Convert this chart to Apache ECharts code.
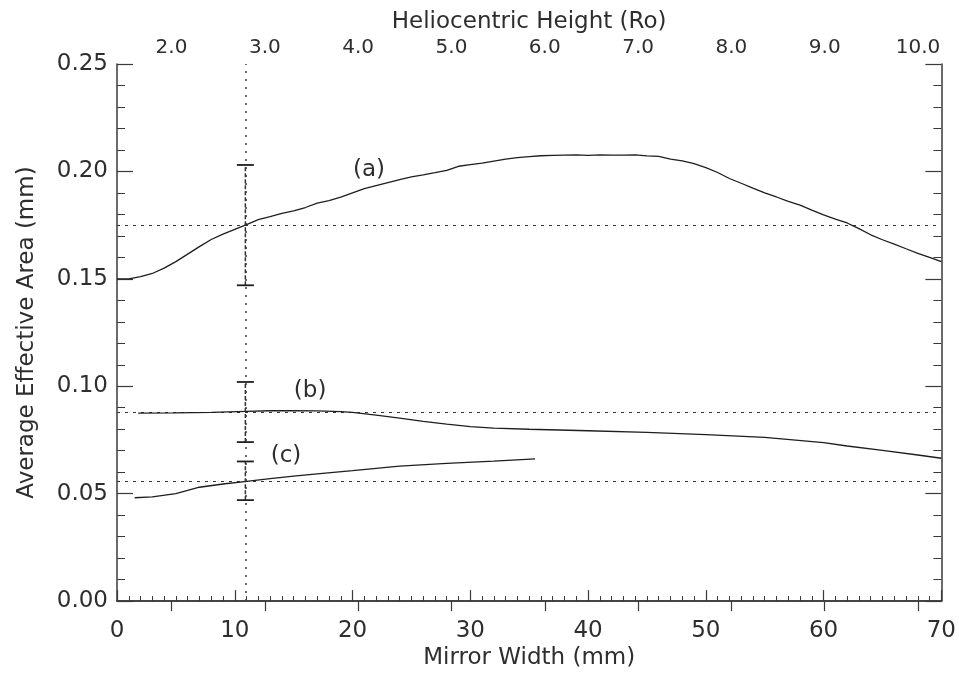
<!DOCTYPE html>
<html>
<head>
<meta charset="utf-8">
<title>Average Effective Area vs Mirror Width</title>
<script src="https://cdn.jsdelivr.net/npm/echarts@6/dist/echarts.min.js"></script>
<style>
  html, body { margin: 0; padding: 0; background: #fff; }
  #chart { width: 959px; height: 675px; }
</style>
</head>
<body>
<div id="chart"></div>
<script>
// Curve (a)
const widthA = [0,1,2,3,4,5,6,7,8,9,10,11,12,13,14,15,16,17,18,19,20,21,22,23,24,25,26,27,28,29,30,31,32,33,34,35,36,37,38,39,40,41,42,43,44,45,46,47,48,49,50,51,52,53,54,55,56,57,58,59,60,61,62,63,64,65,66,67,68,69,70];
const areaA = [0.1500,0.1500,0.1510,0.1525,0.1550,0.1580,0.1615,0.1650,0.1683,0.1708,0.1730,0.1752,0.1776,0.1790,0.1805,0.1816,0.1832,0.1852,0.1864,0.1880,0.1900,0.1920,0.1934,0.1948,0.1962,0.1975,0.1984,0.1994,0.2005,0.2024,0.2032,0.2039,0.2048,0.2057,0.2064,0.2069,0.2073,0.2075,0.2076,0.2077,0.2075,0.2077,0.2076,0.2076,0.2077,0.2072,0.2070,0.2057,0.2049,0.2036,0.2018,0.1995,0.1967,0.1945,0.1922,0.1900,0.1881,0.1861,0.1843,0.1820,0.1798,0.1778,0.1760,0.1734,0.1705,0.1682,0.1662,0.1640,0.1619,0.1600,0.1580];

// Curve (b)
const widthB = [1.8,5,8,11,13,15,17,19,20,22,24,26,28,30,32,35,40,45,50,55,60,62,65,68,70];
const areaB = [0.0875,0.0876,0.0878,0.0883,0.0886,0.0886,0.0885,0.0882,0.0878,0.0866,0.0852,0.0837,0.0824,0.0812,0.0805,0.0800,0.0793,0.0785,0.0775,0.0762,0.0738,0.0722,0.0702,0.0680,0.0665];

// Curve (c)
const widthC = [1.5,3,5,7,9,11,13,15,17,20,24,28,32,35.5];
const areaC = [0.0481,0.0485,0.0500,0.0530,0.0545,0.0557,0.0570,0.0582,0.0592,0.0607,0.0628,0.0641,0.0652,0.0662];

// Reference levels and error bars at the nominal mirror width
const refWidth = 10.9;
const refLevels = [0.175, 0.088, 0.056];
const errHalf = [0.028, 0.014, 0.009];

// Curve tags and where they sit
const curveNames = ['(a)', '(b)', '(c)'];
const tagWidth = [21.4, 16.4, 14.35];
const tagArea = [0.2008, 0.0980, 0.0675];

// Axis ticks
const widthTicks = [0, 10, 20, 30, 40, 50, 60, 70];
const areaTicks = [0.00, 0.05, 0.10, 0.15, 0.20, 0.25];
const heightTicks = [2, 3, 4, 5, 6, 7, 8, 9, 10];
const heightMin = 1.416, heightMax = 10.25;

const FONT = 'DejaVu Sans';
const INK = '#1e1e1e';
const AXIS = '#3a3a3a';
const TEXT = '#2e2e2e';

const zip = (xs, ys) => xs.map((x, i) => [x, ys[i]]);

const chart = echarts.init(document.getElementById('chart'), null, { renderer: 'canvas' });

const curveStyle = { color: INK, width: 1.3 };

chart.setOption({
  animation: false,
  backgroundColor: '#fff',
  grid: { left: 117, right: 15, top: 64, bottom: 72, containLabel: false },
  xAxis: [
    {
      type: 'value', position: 'bottom', min: 0, max: 70, interval: 10,
      name: 'Mirror Width (mm)', nameLocation: 'middle', nameGap: 44,
      nameTextStyle: { fontFamily: FONT, fontSize: 23, color: TEXT },
      axisLine: { show: true, lineStyle: { color: AXIS, width: 1.5 } },
      axisTick: { show: true, inside: true, length: 11, lineStyle: { color: AXIS, width: 1.2 } },
      minorTick: { show: true, splitNumber: 10, length: 5, lineStyle: { color: AXIS, width: 1 } },
      axisLabel: { margin: 18, fontFamily: FONT, fontSize: 23, color: TEXT, formatter: v => String(v) },
      splitLine: { show: false }
    },
    {
      type: 'value', position: 'top', min: heightMin, max: heightMax,
      name: 'Heliocentric Height (Ro)', nameLocation: 'middle', nameGap: 29,
      nameTextStyle: { fontFamily: FONT, fontSize: 23, color: TEXT },
      axisLine: { show: true, lineStyle: { color: AXIS, width: 1.5 } },
      axisTick: { show: true, inside: true, length: 10, customValues: heightTicks, lineStyle: { color: AXIS, width: 1.2 } },
      minorTick: { show: false },
      axisLabel: { margin: 6, fontFamily: FONT, fontSize: 20, color: TEXT, customValues: heightTicks, formatter: v => v.toFixed(1) },
      splitLine: { show: false }
    }
  ],
  yAxis: [
    {
      type: 'value', position: 'left', min: 0, max: 0.25, interval: 0.05,
      name: 'Average Effective Area (mm)', nameLocation: 'middle', nameGap: 78, nameRotate: 90,
      nameTextStyle: { fontFamily: FONT, fontSize: 23, color: TEXT },
      axisLine: { show: true, lineStyle: { color: AXIS, width: 1.5 } },
      axisTick: { show: true, inside: true, length: 16, lineStyle: { color: AXIS, width: 1.2 } },
      minorTick: { show: true, splitNumber: 5, length: 8, lineStyle: { color: AXIS, width: 1 } },
      axisLabel: { margin: 9, fontFamily: FONT, fontSize: 23, color: TEXT, formatter: v => v.toFixed(2) },
      splitLine: { show: false }
    },
    {
      type: 'value', position: 'right', min: 0, max: 0.25, interval: 0.05,
      axisLine: { show: true, lineStyle: { color: AXIS, width: 1.5 } },
      axisTick: { show: true, inside: true, length: 16, lineStyle: { color: AXIS, width: 1.2 } },
      minorTick: { show: true, splitNumber: 5, length: 8, lineStyle: { color: AXIS, width: 1 } },
      axisLabel: { show: false },
      splitLine: { show: false }
    }
  ],
  series: [
    {
      name: 'a', type: 'line', xAxisIndex: 0, yAxisIndex: 0,
      data: zip(widthA, areaA), showSymbol: false, symbol: 'none',
      lineStyle: curveStyle, silent: true, z: 5
    },
    {
      name: 'b', type: 'line', xAxisIndex: 0, yAxisIndex: 0,
      data: zip(widthB, areaB), showSymbol: false, symbol: 'none',
      lineStyle: curveStyle, silent: true, z: 5
    },
    {
      name: 'c', type: 'line', xAxisIndex: 0, yAxisIndex: 0,
      data: zip(widthC, areaC), showSymbol: false, symbol: 'none',
      lineStyle: curveStyle, silent: true, z: 5,
      markLine: {
        silent: true, symbol: 'none', animation: false, precision: 4,
        label: { show: false },
        lineStyle: { color: '#333', width: 1.2, type: [3, 5] },
        data: refLevels.map(v => ({ yAxis: v })).concat([{ xAxis: refWidth, lineStyle: { color: '#444', width: 1.6, type: [2, 6] } }])
      }
    },
    {
      name: 'err', type: 'custom', xAxisIndex: 0, yAxisIndex: 0, silent: true, z: 6,
      data: refLevels.map((c, i) => [refWidth, c - errHalf[i], c + errHalf[i]]),
      encode: { x: 0, y: [1, 2] },
      renderItem: (params, api) => {
        const x = api.value(0);
        const lo = api.coord([x, api.value(1)]);
        const hi = api.coord([x, api.value(2)]);
        const hw = 8.5;
        const st = { stroke: INK, lineWidth: 1.8 };
        return {
          type: 'group',
          children: [
            { type: 'line', shape: { x1: lo[0], y1: lo[1], x2: hi[0], y2: hi[1] }, style: { stroke: '#333', lineWidth: 1.5, lineDash: [4, 2] } },
            { type: 'line', shape: { x1: hi[0] - hw, y1: hi[1], x2: hi[0] + hw, y2: hi[1] }, style: st },
            { type: 'line', shape: { x1: lo[0] - hw, y1: lo[1], x2: lo[0] + hw, y2: lo[1] }, style: st }
          ]
        };
      }
    },
    {
      name: 'tags', type: 'scatter', xAxisIndex: 0, yAxisIndex: 0, silent: true,
      symbolSize: 0,
      itemStyle: { opacity: 1 },
      data: curveNames.map((n, i) => ({ name: n, value: [tagWidth[i], tagArea[i]] })),
      label: {
        show: true, position: 'inside', formatter: p => p.name,
        fontFamily: FONT, fontSize: 23, color: TEXT, opacity: 1
      },
      z: 7
    }
  ]
});
</script>
</body>
</html>
